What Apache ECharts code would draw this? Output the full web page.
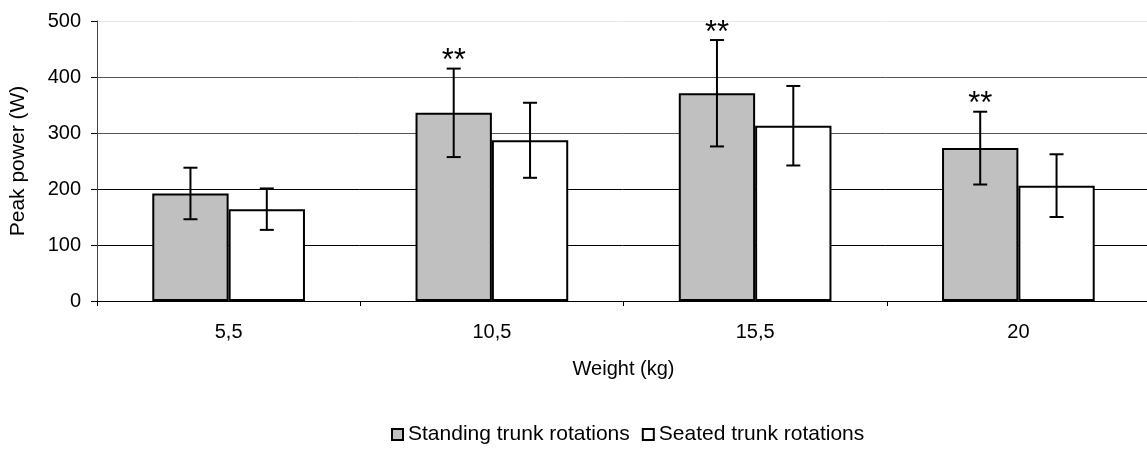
<!DOCTYPE html>
<html>
<head>
<meta charset="utf-8">
<script src="https://cdn.jsdelivr.net/npm/echarts@6/dist/echarts.min.js"></script>
<style>
  html, body { margin: 0; padding: 0; background: #fff; }
  #chart { width: 1147px; height: 451px; }
</style>
</head>
<body>
<div id="chart"></div>
<script>
// data
var weights = ['5,5', '10,5', '15,5', '20'];
var standing = [192, 336, 371, 273];
var standingSD = [46, 79, 95, 65];
var seated = [164, 287, 313, 206];
var seatedSD = [37, 67, 71, 56];
var signif = ['', '**', '**', '**'];

var BAR_FRAC = 0.29; // each bar as a share of the category band
var FONT = '"Liberation Sans", Arial, sans-serif';

function errorBars(means, sds, shift, marks) {
    var data = means.map(function (m, i) { return [i, m - sds[i], m + sds[i], m]; });
    return {
        type: 'custom',
        z: 5,
        silent: true,
        data: data,
        renderItem: function (params, api) {
            var band = api.size([1, 0])[0];
            var x = api.coord([api.value(0), 0])[0] + shift * band * BAR_FRAC / 2;
            var lo = api.coord([api.value(0), api.value(1)])[1];
            var hi = api.coord([api.value(0), api.value(2)])[1];
            var cap = 7;
            var st = { stroke: '#000', lineWidth: 2 };
            var kids = [
                { type: 'line', shape: { x1: x, y1: lo, x2: x, y2: hi }, style: st },
                { type: 'line', shape: { x1: x - cap, y1: lo, x2: x + cap, y2: lo }, style: st },
                { type: 'line', shape: { x1: x - cap, y1: hi, x2: x + cap, y2: hi }, style: st }
            ];
            var m = marks ? marks[params.dataIndex] : '';
            if (m) {
                kids.push({
                    type: 'text',
                    style: {
                        x: x, y: hi - 7, text: m,
                        fill: '#000', align: 'center', verticalAlign: 'middle',
                        font: '31px ' + FONT
                    }
                });
            }
            return { type: 'group', children: kids };
        }
    };
}

var myChart = echarts.init(document.getElementById('chart'));

var option = {
    animation: false,
    textStyle: { fontFamily: FONT, color: '#000' },
    grid: { left: 97, right: -3, top: 21, bottom: 150, containLabel: false, outerBoundsMode: 'none' },
    legend: {
        bottom: 1,
        left: 386,
        itemWidth: 11,
        itemHeight: 11,
        itemGap: 12,
        icon: 'rect',
        textStyle: { fontSize: 21, color: '#000' },
        data: ['Standing trunk rotations', 'Seated trunk rotations']
    },
    xAxis: {
        type: 'category',
        data: weights,
        name: 'Weight (kg)',
        nameLocation: 'middle',
        nameGap: 58,
        nameTextStyle: { fontSize: 20, color: '#000' },
        axisLine: { lineStyle: { color: '#000', width: 1 } },
        axisTick: { show: true, length: 5, lineStyle: { color: '#000' } },
        axisLabel: { fontSize: 20, color: '#000', margin: 21 },
        splitLine: { show: false }
    },
    yAxis: {
        type: 'value',
        min: 0,
        max: 500,
        interval: 100,
        name: 'Peak power (W)',
        nameLocation: 'middle',
        nameGap: 68,
        nameTextStyle: { fontSize: 21, color: '#000' },
        axisLine: { show: true, lineStyle: { color: '#444', width: 1 } },
        axisTick: { show: true, length: 6, lineStyle: { color: '#000' } },
        axisLabel: { fontSize: 20, color: '#000', margin: 16 },
        splitLine: {
            show: true,
            lineStyle: { color: ['#000', '#000', '#000', '#555', '#555', '#e8e8e8'], width: 1 }
        }
    },
    series: [
        {
            name: 'Standing trunk rotations',
            type: 'bar',
            data: standing,
            barWidth: (BAR_FRAC * 100) + '%',
            barGap: '0%',
            itemStyle: { color: '#c0c0c0', borderColor: '#000', borderWidth: 2 }
        },
        {
            name: 'Seated trunk rotations',
            type: 'bar',
            data: seated,
            barWidth: (BAR_FRAC * 100) + '%',
            barGap: '0%',
            itemStyle: { color: '#fff', borderColor: '#000', borderWidth: 2 }
        },
        errorBars(standing, standingSD, -1, signif),
        errorBars(seated, seatedSD, 1, null)
    ]
};

myChart.setOption(option);
</script>
</body>
</html>
